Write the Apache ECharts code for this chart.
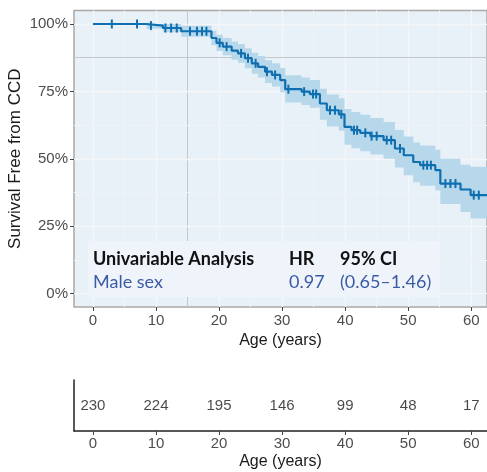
<!DOCTYPE html>
<html>
<head>
<meta charset="utf-8">
<script src="https://cdn.jsdelivr.net/npm/echarts@6/dist/echarts.min.js"></script>
<style>
html,body{margin:0;padding:0;background:#fff;}
#chart{width:487px;height:472px;}
</style>
</head>
<body>
<div id="chart"></div>
<script>
// ---- data ----
const xTicks = [0, 10, 20, 30, 40, 50, 60];
const xMinorGrid = [5, 15, 25, 35, 45, 55];
const yTicks = [0, 25, 50, 75, 100];
const yMinorGrid = [12.5, 37.5, 62.5, 87.5];

const stepTimes = [0, 8.5, 11.1, 14.0, 18.8, 19.6, 20.6, 22.0, 23.0, 24.1, 25.2, 26.2, 27.3, 28.4, 29.7, 30.5, 33.1, 34.4, 36.0, 37.1, 39.0, 39.9, 41.0, 42.4, 44.0, 46.1, 47.9, 49.3, 50.8, 51.9, 54.3, 55.1, 58.3, 59.9, 62.5];
const survival  = [100, 99.4, 98.5, 97.3, 94.8, 93.0, 91.6, 90.1, 89.1, 87.3, 85.4, 84.1, 82.3, 81.1, 79.2, 75.8, 74.9, 74.0, 70.5, 68.0, 66.5, 61.8, 60.6, 59.6, 58.4, 56.9, 53.8, 51.3, 48.8, 47.6, 45.8, 40.8, 38.6, 36.5, 36.5];
const ciLower   = [100, 98.2, 96.9, 95.3, 92.1, 90.0, 88.4, 86.7, 85.6, 83.6, 81.5, 80.1, 78.1, 76.8, 74.7, 70.9, 69.9, 68.9, 64.5, 62.0, 60.4, 55.2, 53.9, 52.8, 51.6, 50.0, 46.8, 43.9, 41.3, 40.0, 38.2, 33.2, 30.2, 27.8, 27.8];
const ciUpper   = [100, 100, 100, 99.3, 97.5, 96.0, 94.8, 93.5, 92.6, 91.0, 89.3, 88.1, 86.5, 85.4, 83.7, 81.0, 80.1, 79.2, 76.0, 73.8, 72.4, 68.5, 67.3, 66.3, 65.1, 63.6, 60.7, 58.3, 56.0, 54.9, 53.3, 50.0, 47.8, 47.0, 47.0];

const censorTimes = [3.0, 7.0, 9.2, 11.5, 12.4, 13.3, 15.4, 16.5, 17.3, 18.0, 20.1, 21.2, 23.5, 24.6, 25.8, 27.6, 28.9, 31.0, 33.5, 34.9, 35.4, 37.6, 38.4, 39.4, 41.4, 41.9, 43.2, 44.2, 45.0, 46.6, 47.3, 48.7, 52.4, 53.0, 53.6, 55.9, 56.7, 57.5, 60.4, 61.2];

const riskTimes  = [0, 10, 20, 30, 40, 50, 60];
const riskCounts = [230, 224, 195, 146, 99, 48, 17];

const tableHeader = ['Univariable Analysis', 'HR', '95% CI'];
const tableRow    = ['Male sex', '0.97', '(0.65\u20131.46)'];

const yAxisTitle = 'Survival Free from CCD';
const xAxisTitle = 'Age (years)';

// ---- helpers ----
function survAt(t) {
  let s = survival[0];
  for (let i = 0; i < stepTimes.length; i++) if (stepTimes[i] <= t) s = survival[i];
  return s;
}

const FONT = 'Liberation Sans';
const chart = echarts.init(document.getElementById('chart'), null, {renderer: 'canvas'});

const gridLineData = []
  .concat(xTicks.map(v => ({xAxis: v, lineStyle: {color: '#f4f6f8', width: 1.3, type: 'solid'}})))
  .concat(xMinorGrid.map(v => ({xAxis: v, lineStyle: {color: v === 15 ? '#c4c8cc' : '#f0f3f6', width: 1, type: 'solid'}})))
  .concat(yTicks.map(v => ({yAxis: v, lineStyle: {color: '#f4f6f8', width: 1.3, type: 'solid'}})))
  .concat(yMinorGrid.map(v => ({yAxis: v, lineStyle: {color: v === 87.5 ? '#c4c8cc' : '#f0f3f6', width: 1, type: 'solid'}})));

function renderBand(params, api) {
  const upper = [], lower = [];
  for (let i = 0; i < stepTimes.length; i++) {
    const t0 = stepTimes[i];
    const t1 = i + 1 < stepTimes.length ? stepTimes[i + 1] : stepTimes[i];
    upper.push(api.coord([t0, ciUpper[i]]), api.coord([t1, ciUpper[i]]));
    lower.push(api.coord([t0, ciLower[i]]), api.coord([t1, ciLower[i]]));
  }
  const pts = upper.concat(lower.reverse());
  return {type: 'polygon', shape: {points: pts}, style: {fill: '#b7d7eb'}};
}

const option = {
  animation: false,
  grid: [
    {left: 74, right: 0, top: 10.5, bottom: 165, show: true, backgroundColor: '#e8f0f8', borderColor: '#a8a8a8', borderWidth: 1.5, outerBoundsMode: 'none', containLabel: false},
    {left: 74, right: 0, top: 380, bottom: 41, show: false, outerBoundsMode: 'none', containLabel: false}
  ],
  xAxis: [
    {
      type: 'value', gridIndex: 0, min: -3, max: 62.5,
      axisLine: {show: false, onZero: false},
      axisTick: {show: true, customValues: xTicks, length: 4, lineStyle: {color: '#444', width: 1}},
      axisLabel: {customValues: xTicks, color: '#4d4d4d', fontSize: 15, margin: 6, fontFamily: FONT},
      splitLine: {show: false},
      name: xAxisTitle, nameLocation: 'middle', nameGap: 21,
      nameTextStyle: {color: '#1a1a1a', fontSize: 16, fontFamily: FONT}
    },
    {
      type: 'value', gridIndex: 1, min: -3, max: 62.5,
      axisLine: {show: true, onZero: false, lineStyle: {color: '#222', width: 1.5}},
      axisTick: {show: true, customValues: xTicks, length: 4, lineStyle: {color: '#444', width: 1}},
      axisLabel: {customValues: xTicks, color: '#4d4d4d', fontSize: 15, margin: 5, fontFamily: FONT},
      splitLine: {show: false},
      name: xAxisTitle, nameLocation: 'middle', nameGap: 23,
      nameTextStyle: {color: '#1a1a1a', fontSize: 16, fontFamily: FONT}
    }
  ],
  yAxis: [
    {
      type: 'value', gridIndex: 0, min: -5, max: 105,
      axisLine: {show: false, onZero: false},
      axisTick: {show: true, customValues: yTicks, length: 4, lineStyle: {color: '#444', width: 1}},
      axisLabel: {customValues: yTicks, color: '#4d4d4d', fontSize: 15, margin: 6, fontFamily: FONT, formatter: v => v + '%'},
      splitLine: {show: false},
      name: yAxisTitle, nameLocation: 'middle', nameGap: 50, nameMoveOverlap: false,
      nameTextStyle: {color: '#1a1a1a', fontSize: 17, fontFamily: FONT}
    },
    {
      type: 'value', gridIndex: 1, min: 0, max: 1,
      axisLine: {show: true, onZero: false, lineStyle: {color: '#222', width: 1.5}},
      axisTick: {show: false}, axisLabel: {show: false}, splitLine: {show: false}
    }
  ],
  graphic: [
    {type: 'rect', z: 5, shape: {x: 88, y: 241, width: 352, height: 56}, style: {fill: '#eef4fa'}},
    {type: 'text', z: 6, x: 93, y: 259, style: {text: tableHeader[0], font: 'bold 18px Lato', fill: '#111', verticalAlign: 'middle'}},
    {type: 'text', z: 6, x: 289, y: 259, style: {text: tableHeader[1], font: 'bold 18px Lato', fill: '#111', verticalAlign: 'middle'}},
    {type: 'text', z: 6, x: 340, y: 259, style: {text: tableHeader[2], font: 'bold 18px Lato', fill: '#111', verticalAlign: 'middle'}},
    {type: 'text', z: 6, x: 93, y: 282, style: {text: tableRow[0], font: '18px Lato', fill: '#3b5ba5', verticalAlign: 'middle'}},
    {type: 'text', z: 6, x: 289, y: 282, style: {text: tableRow[1], font: '18px Lato', fill: '#3b5ba5', verticalAlign: 'middle'}},
    {type: 'text', z: 6, x: 340, y: 282, style: {text: tableRow[2], font: '18px Lato', fill: '#3b5ba5', verticalAlign: 'middle'}}
  ],
  series: [
    {
      name: 'grid', type: 'line', xAxisIndex: 0, yAxisIndex: 0, data: [], z: 1, silent: true,
      markLine: {z: 1, silent: true, symbol: ['none', 'none'], label: {show: false}, animation: false, data: gridLineData}
    },
    {
      name: 'ciBand', type: 'custom', xAxisIndex: 0, yAxisIndex: 0, z: 2, silent: true,
      renderItem: renderBand,
      data: [[0, 100]]
    },
    {
      name: 'survival', type: 'line', xAxisIndex: 0, yAxisIndex: 0, step: 'end', symbol: 'none', z: 3,
      lineStyle: {color: '#0e6fb1', width: 2.2},
      data: stepTimes.map((t, i) => [t, survival[i]])
    },
    {
      name: 'censor', type: 'scatter', xAxisIndex: 0, yAxisIndex: 0, z: 4,
      symbol: 'rect', symbolSize: [2, 9],
      itemStyle: {color: '#0e6fb1', opacity: 1},
      data: censorTimes.map(t => [t, survAt(t)])
    },
    {
      name: 'risk', type: 'scatter', xAxisIndex: 1, yAxisIndex: 1, z: 4,
      symbolSize: 1, itemStyle: {color: 'rgba(0,0,0,0)'},
      label: {show: true, position: 'inside', formatter: p => String(p.value[2]), color: '#1a1a1a', fontSize: 15, fontFamily: FONT},
      data: riskTimes.map((t, i) => [t, 0.5, riskCounts[i]])
    }
  ]
};
chart.setOption(option);
</script>
</body>
</html>
